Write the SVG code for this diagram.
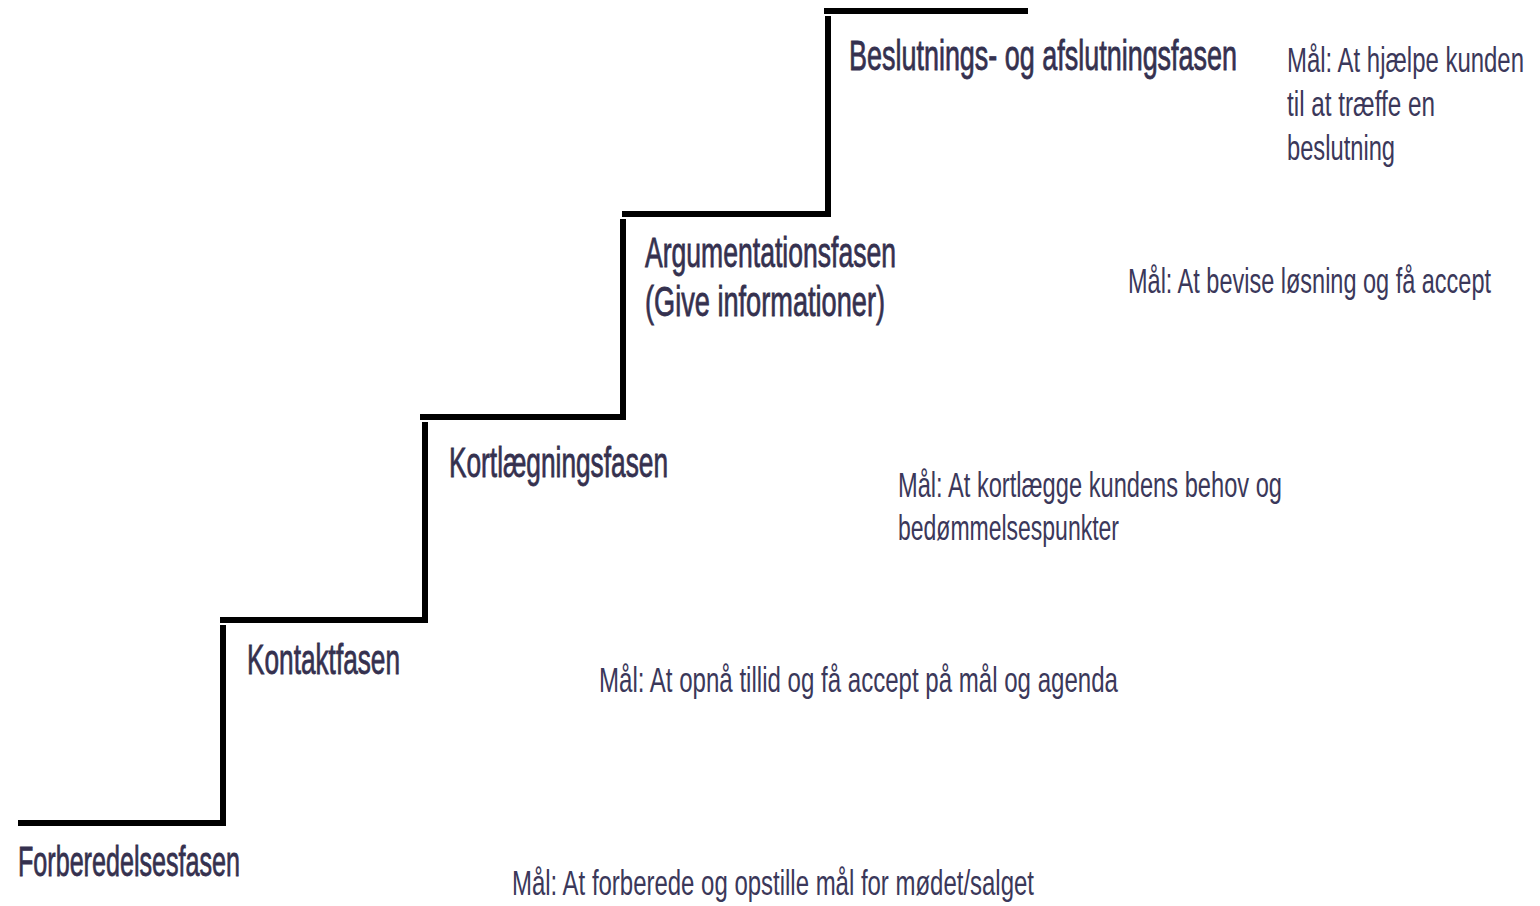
<svg xmlns="http://www.w3.org/2000/svg" width="1540" height="906" viewBox="0 0 1540 906">
<style>
.stair{fill:none;stroke:#000;stroke-width:6;stroke-linecap:butt}
.h{font-family:"Liberation Sans",Arial,sans-serif;font-size:42px;fill:#35314f;stroke:#35314f;stroke-width:0.8}
.m{font-family:"Liberation Sans",Arial,sans-serif;font-size:35px;fill:#3b385a}
</style>
<rect width="1540" height="906" fill="#fff"/>
<g id="connectors">
<path class="stair" d="M18 823 H225"/>
<path class="stair" d="M223 625 V826"/>
<path class="stair" d="M220 620 H428"/>
<path class="stair" d="M425 422 V623"/>
<path class="stair" d="M420 417 H626"/>
<path class="stair" d="M623 219 V420"/>
<path class="stair" d="M622 214 H831"/>
<path class="stair" d="M828 16 V217"/>
<path class="stair" d="M824 11 H1028"/>
</g>
<g id="n1">
<text class="h" transform="translate(18,876) scale(0.6,1)" textLength="370" lengthAdjust="spacingAndGlyphs">Forberedelsesfasen</text>
<text class="m" transform="translate(512,895) scale(0.7,1)" textLength="745.7" lengthAdjust="spacingAndGlyphs">Mål: At forberede og opstille mål for mødet/salget</text>
</g>
<g id="n2">
<text class="h" transform="translate(247,674) scale(0.6,1)" textLength="255" lengthAdjust="spacingAndGlyphs">Kontaktfasen</text>
<text class="m" transform="translate(599,692) scale(0.7,1)" textLength="741.4" lengthAdjust="spacingAndGlyphs">Mål: At opnå tillid og få accept på mål og agenda</text>
</g>
<g id="n3">
<text class="h" transform="translate(449,477) scale(0.6,1)" textLength="365" lengthAdjust="spacingAndGlyphs">Kortlægningsfasen</text>
<text class="m" transform="translate(898,497) scale(0.7,1)" textLength="548.6" lengthAdjust="spacingAndGlyphs">Mål: At kortlægge kundens behov og</text>
<text class="m" transform="translate(898,540) scale(0.7,1)" textLength="315.7" lengthAdjust="spacingAndGlyphs">bedømmelsespunkter</text>
</g>
<g id="n4">
<text class="h" transform="translate(645,267) scale(0.6,1)" textLength="418.3" lengthAdjust="spacingAndGlyphs">Argumentationsfasen</text>
<text class="h" transform="translate(645,316) scale(0.6,1)" textLength="400" lengthAdjust="spacingAndGlyphs">(Give informationer)</text>
<text class="m" transform="translate(1128,293) scale(0.7,1)" textLength="518.6" lengthAdjust="spacingAndGlyphs">Mål: At bevise løsning og få accept</text>
</g>
<g id="n5">
<text class="h" transform="translate(849,70) scale(0.6,1)" textLength="646.7" lengthAdjust="spacingAndGlyphs">Beslutnings- og afslutningsfasen</text>
<text class="m" transform="translate(1287,72) scale(0.7,1)" textLength="338.6" lengthAdjust="spacingAndGlyphs">Mål: At hjælpe kunden</text>
<text class="m" transform="translate(1287,116) scale(0.7,1)" textLength="211.4" lengthAdjust="spacingAndGlyphs">til at træffe en</text>
<text class="m" transform="translate(1287,160) scale(0.7,1)" textLength="154.3" lengthAdjust="spacingAndGlyphs">beslutning</text>
</g>
</svg>
